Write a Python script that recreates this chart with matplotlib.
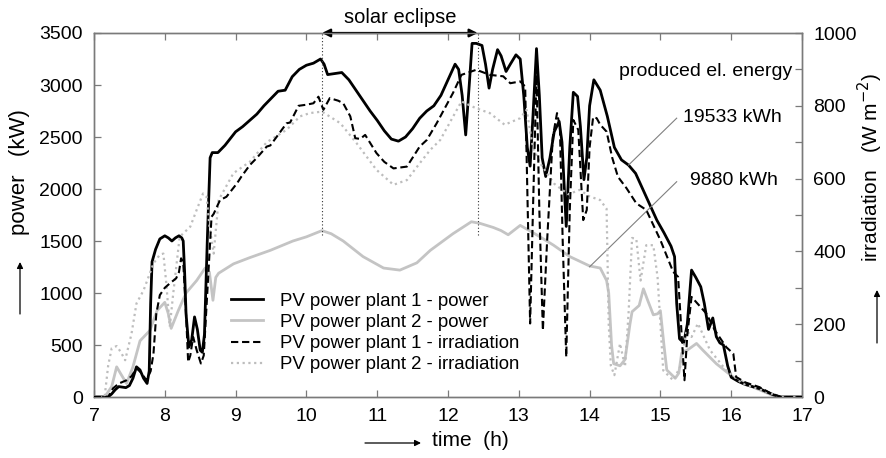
import numpy as np
import matplotlib
matplotlib.use("Agg")
import matplotlib.pyplot as plt
from matplotlib.ticker import MultipleLocator, FuncFormatter

plt.rcParams['font.family'] = ['Liberation Sans', 'DejaVu Sans']

# ---------------- data ----------------
# PV power plant 1 - power (kW)
p1_t = [7.0, 7.2, 7.25, 7.3, 7.35, 7.45, 7.5, 7.55, 7.6, 7.65, 7.7, 7.75, 7.78, 7.8, 7.82, 7.87, 7.93,
        8.0, 8.05, 8.1, 8.15, 8.2, 8.24, 8.26, 8.28, 8.3, 8.34, 8.38, 8.42, 8.46, 8.5, 8.53, 8.56, 8.6,
        8.64, 8.67, 8.75, 8.85, 9.0, 9.1, 9.2, 9.3, 9.4, 9.5, 9.6, 9.7, 9.8, 9.9, 10.0, 10.1, 10.2,
        10.25, 10.3, 10.4, 10.5, 10.6, 10.7, 10.8, 10.9, 11.0, 11.1, 11.2, 11.3, 11.4, 11.5, 11.6, 11.7,
        11.8, 11.9, 12.0, 12.1, 12.15, 12.2, 12.25, 12.3, 12.34, 12.4, 12.48, 12.53, 12.58, 12.63, 12.7,
        12.75, 12.82, 12.88, 12.96, 13.02, 13.07, 13.12, 13.16, 13.2, 13.25, 13.29, 13.33, 13.38, 13.44,
        13.5, 13.57, 13.61, 13.67, 13.72, 13.77, 13.83, 13.87, 13.92, 13.96, 14.0, 14.06, 14.15, 14.25,
        14.35, 14.45, 14.55, 14.65, 14.75, 14.85, 14.95, 15.05, 15.15, 15.2, 15.23, 15.27, 15.33, 15.38,
        15.44, 15.5, 15.57, 15.62, 15.68, 15.74, 15.79, 15.84, 15.89, 15.95, 16.0, 16.1, 16.2, 16.3,
        16.4, 16.5, 16.6, 16.7, 17.0]
p1_kw = [0, 0, 30, 70, 100, 90, 110, 180, 290, 260, 180, 130, 250, 900, 1300, 1420, 1520,
         1550, 1530, 1500, 1530, 1550, 1530, 1500, 1200, 800, 480, 550, 770, 650, 450, 430, 600, 1500,
         2300, 2350, 2350, 2420, 2550, 2600, 2660, 2720, 2800, 2870, 2940, 2950, 3080, 3150, 3190, 3210, 3250,
         3200, 3100, 3110, 3120, 3050, 2950, 2850, 2750, 2660, 2560, 2480, 2460, 2500, 2580, 2680, 2750,
         2800, 2900, 3050, 3200, 3150, 2900, 2520, 3000, 3400, 3400, 3380, 3200, 2970, 3150, 3340,
         3280, 3130, 3200, 3290, 3250, 2900, 2400, 2220, 2700, 3350, 2900, 2300, 2120, 2300,
         2550, 2650, 2450, 1640, 2400, 2930, 2890, 2600, 2090, 2300, 2800, 3050, 2950, 2700,
         2400, 2280, 2230, 2150, 2000, 1850, 1700, 1580, 1450, 1350, 900, 560, 520, 700,
         1220, 1150, 1060, 900, 650, 760, 580, 520, 500, 300, 190, 150, 120, 100,
         80, 50, 20, 0, 0]

# PV power plant 2 - power (kW)
p2_t = [7.0, 7.15, 7.25, 7.32, 7.38, 7.46, 7.55, 7.65, 7.79, 7.89, 8.0, 8.05, 8.09, 8.19, 8.3, 8.45,
        8.57, 8.63, 8.68, 8.72, 8.76, 8.97, 9.2, 9.49, 9.81, 10.0, 10.22, 10.35, 10.52, 10.8, 11.09,
        11.32, 11.56, 11.75, 12.07, 12.33, 12.45, 12.64, 12.75, 12.85, 13.02, 13.15, 13.3, 13.49, 13.72,
        14.0, 14.15, 14.24, 14.27, 14.31, 14.34, 14.43, 14.5, 14.57, 14.6, 14.7, 14.76, 14.82, 14.9,
        14.96, 15.0, 15.05, 15.09, 15.21, 15.26, 15.3, 15.4, 15.51, 15.6, 15.79, 16.03, 16.31, 16.5,
        16.64, 17.0]
p2_kw = [0, 0, 100, 290, 220, 130, 290, 540, 640, 830, 910, 800, 660, 830, 1000, 1120,
         1240, 1200, 930, 1150, 1190, 1280, 1340, 1410, 1500, 1540, 1600, 1570, 1500, 1350, 1240,
         1220, 1290, 1410, 1570, 1685, 1670, 1630, 1600, 1560, 1650, 1600, 1540, 1460, 1350,
         1260, 1240, 1120, 1000, 500, 320, 300, 360, 700, 820, 880, 1040, 930, 790,
         800, 830, 500, 260, 180, 230, 420, 460, 515, 450, 320, 190, 95, 40,
         0, 0]

# PV power plant 1 - irradiation (W m-2)
i1_t = [7.0, 7.2, 7.27, 7.35, 7.46, 7.53, 7.6, 7.67, 7.74, 7.8, 7.84, 7.88, 7.93, 8.0, 8.07, 8.16,
        8.2, 8.23, 8.26, 8.3, 8.33, 8.36, 8.4, 8.45, 8.51, 8.55, 8.6, 8.66, 8.69, 8.78, 8.87, 9.02,
        9.08, 9.2, 9.3, 9.44, 9.49, 9.6, 9.72, 9.77, 9.89, 10.0, 10.1, 10.17, 10.24, 10.33, 10.45,
        10.52, 10.62, 10.69, 10.76, 10.83, 10.99, 11.1, 11.23, 11.42, 11.6, 11.7, 11.84, 12.07, 12.19,
        12.4, 12.59, 12.78, 12.88, 13.02, 13.09, 13.12, 13.16, 13.2, 13.25, 13.29, 13.34, 13.4, 13.48,
        13.54, 13.58, 13.62, 13.67, 13.72, 13.77, 13.84, 13.91, 13.96, 14.0, 14.05, 14.1, 14.15, 14.24,
        14.32, 14.4, 14.52, 14.66, 14.8, 15.0, 15.18, 15.25, 15.3, 15.34, 15.38, 15.44, 15.55, 15.65,
        15.77, 15.93, 16.03, 16.07, 16.2, 16.4, 16.55, 16.7, 17.0]
i1_wm2 = [0, 0, 24, 37, 46, 57, 79, 66, 46, 71, 119, 229, 280, 300, 312, 326,
          343, 381, 371, 229, 96, 114, 165, 129, 92, 114, 286, 495, 503, 541, 550, 587,
          605, 637, 657, 688, 691, 720, 752, 754, 800, 803, 807, 825, 789, 821, 814,
          807, 771, 711, 709, 720, 670, 646, 628, 633, 688, 706, 752, 835, 885,
          899, 885, 881, 862, 867, 853, 571, 202, 514, 885, 514, 183, 429, 714,
          780, 743, 429, 110, 514, 761, 734, 486, 514, 686, 769, 766, 748, 729,
          657, 605, 574, 532, 514, 431, 344, 330, 171, 46, 171, 275, 251, 229,
          183, 137, 119, 55, 40, 27, 11, 0, 0]

# PV power plant 2 - irradiation (W m-2)
i2_t = [7.0, 7.15, 7.2, 7.25, 7.32, 7.38, 7.44, 7.53, 7.6, 7.7, 7.84, 7.93, 7.98, 8.02, 8.07, 8.12,
        8.21, 8.36, 8.45, 8.54, 8.59, 8.63, 8.69, 8.76, 8.97, 9.2, 9.44, 9.72, 9.91, 10.05, 10.22,
        10.48, 10.71, 10.99, 11.23, 11.42, 11.6, 11.75, 11.89, 12.19, 12.4, 12.59, 12.8, 13.02, 13.11,
        13.2, 13.3, 13.4, 13.5, 13.6, 13.7, 13.86, 14.0, 14.15, 14.24, 14.27, 14.3, 14.35, 14.43, 14.5,
        14.55, 14.6, 14.66, 14.72, 14.8, 14.9, 14.96, 15.04, 15.18, 15.28, 15.37, 15.44, 15.53, 15.7,
        15.93, 16.16, 16.5, 16.7, 17.0]
i2_wm2 = [0, 0, 86, 134, 140, 123, 101, 174, 257, 293, 367, 391, 394, 314, 193, 286,
          440, 468, 514, 559, 550, 471, 394, 541, 615, 646, 700, 734, 771, 780, 784,
          752, 697, 624, 583, 596, 642, 679, 706, 812, 793, 780, 748, 766, 789,
          686, 643, 614, 586, 571, 557, 569, 551, 541, 517, 200, 86, 60, 147, 83,
          229, 437, 434, 320, 417, 417, 329, 73, 46, 83, 183, 165, 202, 129,
          73, 37, 14, 0, 0]

labels = ["PV power plant 1 - power", "PV power plant 2 - power",
          "PV power plant 1 - irradiation", "PV power plant 2 - irradiation"]

eclipse_start, eclipse_end = 10.22, 12.42
eclipse_line_bottom = 1560
energy_p1_text = "19533 kWh"
energy_p2_text = "9880 kWh"

# ---------------- figure ----------------
W, H = 886, 458
fig = plt.figure(figsize=(W / 100, H / 100), dpi=100)
ax = fig.add_axes([94 / W, 61 / H, 708 / W, 364 / H])
ax2 = ax.twinx()

spine_col = '#7a7a7a'
fs_tick = 14
fs_txt = 14
fs_leg = 13.4

l1, = ax.plot(p1_t, p1_kw, color='black', lw=2.0, zorder=5)
l2, = ax.plot(p2_t, p2_kw, color='#c4c4c4', lw=2.0, zorder=3)
l3, = ax2.plot(i1_t, i1_wm2, color='black', lw=1.5, dashes=(3.5, 1.8), zorder=4)
l4, = ax2.plot(i2_t, i2_wm2, color='#bdbdbd', lw=1.6, dashes=(1, 1.6), zorder=2)

ax.set_xlim(7, 17)
ax.set_ylim(0, 3500)
ax2.set_ylim(0, 1000)

ax.xaxis.set_major_locator(MultipleLocator(1))
ax.yaxis.set_major_locator(MultipleLocator(500))
ax2.yaxis.set_major_locator(MultipleLocator(100))
ax2.yaxis.set_major_formatter(FuncFormatter(lambda v, p: f"{int(round(v))}" if int(round(v)) % 200 == 0 else ""))

ax.tick_params(axis='both', direction='in', length=5, width=0.9, color=spine_col,
               labelsize=fs_tick, top=True, right=False, pad=8)
ax2.tick_params(axis='y', direction='in', length=5, width=0.9, color=spine_col,
                labelsize=fs_tick, pad=8)
for a in (ax, ax2):
    for s in a.spines.values():
        s.set_color(spine_col)
        s.set_linewidth(1.0)

# eclipse markers
for xe in (eclipse_start, eclipse_end):
    ax.plot([xe, xe], [eclipse_line_bottom, 3500], color='#333333', lw=0.8, ls=(0, (1, 2)), zorder=6)
ax.annotate('', xy=(eclipse_start, 3500), xytext=(eclipse_end, 3500),
            arrowprops=dict(arrowstyle='<|-|>', color='black', lw=1.6, mutation_scale=12,
                            shrinkA=0, shrinkB=0), annotation_clip=False, zorder=7)
ax.text((eclipse_start + eclipse_end) / 2, 3560, "solar eclipse", ha='center', va='bottom', fontsize=fs_txt + 0.5)

# produced energy annotations
ax.text(16.86, 3127, "produced el. energy", ha='right', va='center', fontsize=fs_txt)
ax.plot([14.55, 15.23], [2230, 2681], color='#808080', lw=0.8, zorder=6)
ax.text(15.32, 2684, energy_p1_text, ha='left', va='center', fontsize=fs_txt)
ax.plot([14.0, 15.23], [1252, 2070], color='#808080', lw=0.8, zorder=6)
ax.text(15.42, 2077, energy_p2_text, ha='left', va='center', fontsize=fs_txt)

# legend
leg = ax2.legend([l1, l2, l3, l4], labels, loc='lower left', bbox_to_anchor=(0.183, 0.045),
                 frameon=False, fontsize=fs_leg, handlelength=1.7, labelspacing=0.22,
                 handletextpad=0.95, borderaxespad=0)

# axis labels (as figure text) with arrows
fig.text(20 / W, 1 - 172 / H, "power   (kW)", rotation=90, ha='center', va='center', fontsize=fs_txt + 2)
fig.text(870 / W, 1 - 168 / H, "irradiation   (W m$^{-2}$)", rotation=90, ha='center', va='center', fontsize=fs_txt + 1)
fig.text(470 / W, 1 - 441 / H, "time  (h)", ha='center', va='center', fontsize=fs_txt + 1)
arr = dict(arrowstyle='-|>', color='black', lw=0.9, mutation_scale=9, shrinkA=0, shrinkB=0)
ax.annotate('', xy=(20 / W, 1 - 262 / H), xytext=(20 / W, 1 - 314 / H), xycoords='figure fraction',
            textcoords='figure fraction', arrowprops=arr, annotation_clip=False)
ax.annotate('', xy=(877 / W, 1 - 290 / H), xytext=(877 / W, 1 - 343 / H), xycoords='figure fraction',
            textcoords='figure fraction', arrowprops=arr, annotation_clip=False)
ax.annotate('', xy=(421 / W, 1 - 443 / H), xytext=(365 / W, 1 - 443 / H), xycoords='figure fraction',
            textcoords='figure fraction', arrowprops=arr, annotation_clip=False)

fig.savefig("out.png", dpi=100)
